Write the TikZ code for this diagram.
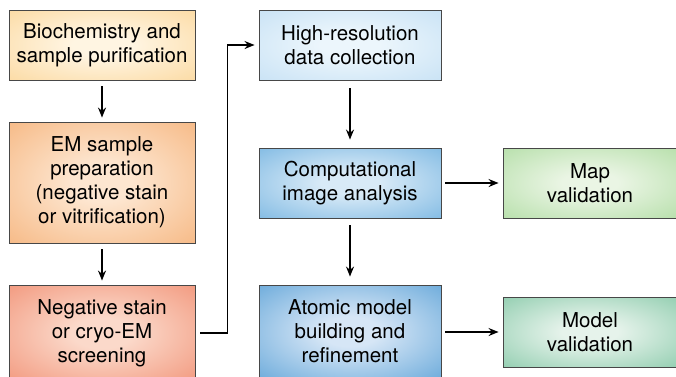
\documentclass[tikz,border=0pt]{standalone}
\usepackage{fontspec}
\setmainfont{TeX Gyre Heros}
\usetikzlibrary{arrows.meta}
\definecolor{bioin}{RGB}{255,245,226}
\definecolor{bioout}{RGB}{250,206,134}
\definecolor{prepin}{RGB}{253,230,208}
\definecolor{prepout}{RGB}{243,164,98}
\definecolor{scrin}{RGB}{251,217,202}
\definecolor{scrout}{RGB}{238,122,90}
\definecolor{hiresin}{RGB}{236,246,252}
\definecolor{hiresout}{RGB}{184,217,242}
\definecolor{compin}{RGB}{216,234,247}
\definecolor{compout}{RGB}{88,164,218}
\definecolor{atomin}{RGB}{214,230,246}
\definecolor{atomout}{RGB}{58,143,206}
\definecolor{mapin}{RGB}{234,245,228}
\definecolor{mapout}{RGB}{158,213,143}
\definecolor{modin}{RGB}{230,243,235}
\definecolor{modout}{RGB}{106,188,148}
\colorlet{boxin}{white}
\colorlet{boxout}{gray}
\pgfdeclareradialshading[boxin,boxout]{boxglow}{\pgfpoint{0bp}{0bp}}{color(0bp)=(boxin); color(8bp)=(boxin); color(50bp)=(boxout); color(100bp)=(boxout)}
\tikzset{
    stage/.style 2 args={draw=black!72, line width=0.9pt, shading=boxglow,
        /utils/exec={\colorlet{boxin}{#1}\colorlet{boxout}{#2}},
        minimum width=186, minimum height=70, inner sep=0pt, align=center,
        font=\fontsize{20.5}{24}\selectfont},
    flow/.style={-{Stealth[length=10pt,width=8pt]}, line width=1.4pt}
}
\begin{document}
\begin{tikzpicture}[x=1pt, y=-1pt]
            \useasboundingbox (0,0) rectangle (676,376);
            \clip (0,0) rectangle (676,376);
            \node [stage={bioin}{bioout}] (bio) at (102,45) {Biochemistry and\\sample purification};
            \node [stage={prepin}{prepout}, minimum height=121] (prep) at (102,182.5) {EM sample\\preparation\\(negative stain\\or vitrification)};
            \node [stage={scrin}{scrout}, minimum height=96] (screen) at (102,333) {Negative stain\\or cryo-EM\\screening};
            \node [stage={hiresin}{hiresout}, minimum width=182] (hires) at (350,45) {High-resolution\\data collection};
            \node [stage={compin}{compout}, minimum width=182] (comp) at (350,183) {Computational\\image analysis};
            \node [stage={atomin}{atomout}, minimum width=182, minimum height=93] (atomic) at (350,331.5) {Atomic model\\building and\\refinement};
            \node [stage={mapin}{mapout}, minimum width=174] (map) at (590,183) {Map\\validation};
            \node [stage={modin}{modout}, minimum width=174] (model) at (590,332) {Model\\validation};
            \draw [flow, shorten <=6pt, shorten >=4pt] (bio) -- (prep);
            \draw [flow, shorten <=6pt, shorten >=4pt] (prep) -- (screen);
            \draw [flow, shorten <=5pt, shorten >=4pt] (screen.east) -- ++(32,0) |- (hires.west);
            \draw [flow, shorten <=8pt, shorten >=8pt] (hires) -- (comp);
            \draw [flow, shorten <=7pt, shorten >=8pt] (comp) -- (atomic);
            \draw [flow, shorten <=4pt, shorten >=4pt] (comp) -- (map);
            \draw [flow, shorten <=4pt, shorten >=4pt] (atomic.east |- model) -- (model);
        \end{tikzpicture}
\end{document}
